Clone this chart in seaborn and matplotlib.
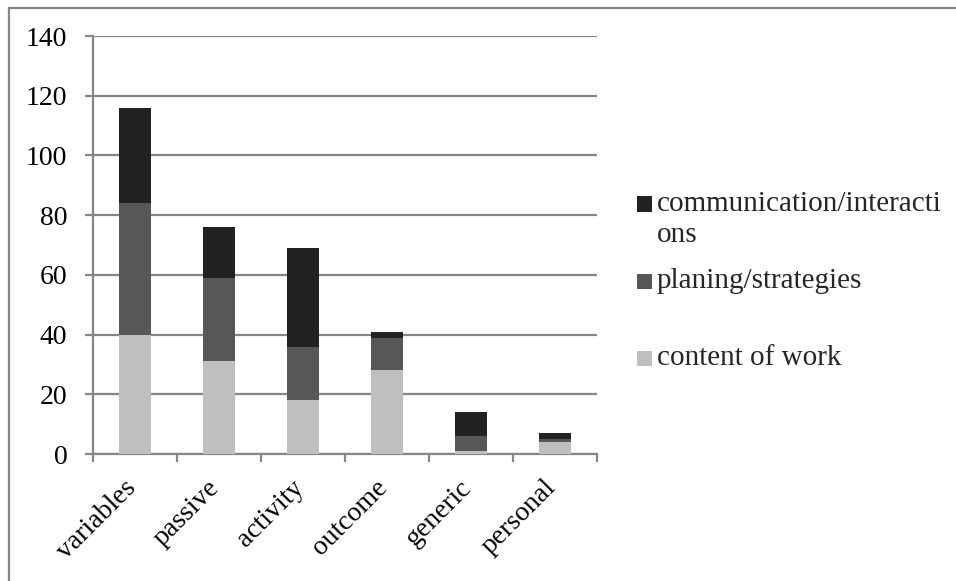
import matplotlib
matplotlib.use("Agg")
import matplotlib.pyplot as plt
from matplotlib.patches import Rectangle
from matplotlib.lines import Line2D
import matplotlib.transforms as mtransforms
import numpy as np
import pandas as pd
import seaborn as sns

# Data
categories = ["variables", "passive", "activity", "outcome", "generic", "personal"]
content_of_work = [40, 31, 18, 28, 1, 4]
planing_strategies = [44, 28, 18, 11, 5, 1]
communication = [32, 17, 33, 2, 8, 2]

series_labels = ["communication/interacti\nons", "planing/strategies", "content of work"]
colors = {"content": "#BFBFBF", "planing": "#575757", "comm": "#222222"}
grid_color = "#868686"

sns.set_theme(style="white")
plt.rcParams["font.family"] = ["Liberation Serif", "DejaVu Serif"]

df = pd.DataFrame({
    "category": categories,
    "content": content_of_work,
    "planing": planing_strategies,
    "comm": communication,
})
df["lvl1"] = df["content"]
df["lvl2"] = df["content"] + df["planing"]
df["lvl3"] = df["lvl2"] + df["comm"]

fig = plt.figure(figsize=(9.56, 5.81), dpi=100)
ax = fig.add_axes([93 / 956, 1 - 454 / 581, (597 - 93) / 956, (454 - 36) / 581])

# Stacked bars: cumulative totals drawn from tallest to shortest
for col, key in [("lvl3", "comm"), ("lvl2", "planing"), ("lvl1", "content")]:
    sns.barplot(data=df, x="category", y=col, color=colors[key], width=0.39,
                saturation=1, ax=ax, zorder=3, linewidth=0)

ax.set_ylim(0, 140)
ax.set_xlim(-0.5, len(categories) - 0.5)
ax.set_yticks(np.arange(0, 141, 20))
ax.yaxis.grid(True, color=grid_color, linewidth=1.6, zorder=0)
ax.set_axisbelow(True)
ax.set_xlabel("")
ax.set_ylabel("")

for side in ["top", "right"]:
    ax.spines[side].set_visible(False)
for side in ["left", "bottom"]:
    ax.spines[side].set_color(grid_color)
    ax.spines[side].set_linewidth(1.6)

ax.tick_params(axis="y", which="major", left=True, length=6, width=1.6,
               color=grid_color, labelsize=20, pad=12.5, labelcolor="black")
# category boundaries carry the x tick marks
ax.set_xticks(np.arange(-0.5, len(categories), 1.0), minor=True)
ax.tick_params(axis="x", which="minor", bottom=True, length=6, width=1.6,
               color=grid_color)
ax.tick_params(axis="x", which="major", bottom=False, labelsize=20, pad=2,
               labelcolor="black")
ax.set_xticks(range(len(categories)))
ax.set_xticklabels(categories, rotation=45, ha="right", rotation_mode="anchor",
                   va="center")
offset = mtransforms.ScaledTranslation(-3 / 100, -19 / 100, fig.dpi_scale_trans)
for lbl in ax.get_xticklabels():
    lbl.set_transform(lbl.get_transform() + offset)

# Legend drawn as square swatches with labels
legend_items = [
    (series_labels[0], colors["comm"], 204),
    (series_labels[1], colors["planing"], 281),
    (series_labels[2], colors["content"], 358),
]
sq = 15
for text, color, yc in legend_items:
    fig.patches.append(Rectangle((637 / 956, 1 - (yc + sq / 2) / 581), sq / 956, sq / 581,
                                 transform=fig.transFigure, facecolor=color,
                                 edgecolor="none"))
    fig.text(657 / 956, 1 - yc / 581, text, fontsize=21, va="top",
             ha="left", linespacing=1.25,
             transform=fig.transFigure + mtransforms.ScaledTranslation(0, 13 / 100, fig.dpi_scale_trans))

# Chart area border (left and top edges)
fig.add_artist(Line2D([8.5 / 956, 8.5 / 956], [0, 1 - 8 / 581], color=grid_color,
                      linewidth=1.6, transform=fig.transFigure))
fig.add_artist(Line2D([8.5 / 956, 1], [1 - 8 / 581, 1 - 8 / 581], color=grid_color,
                      linewidth=1.6, transform=fig.transFigure))

fig.savefig("out.png", dpi=100)
